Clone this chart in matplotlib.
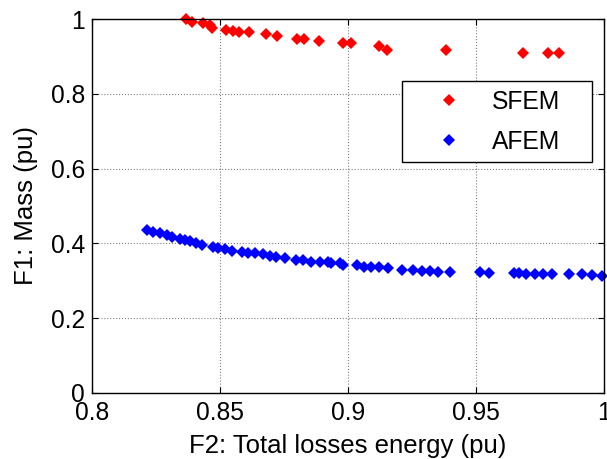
import matplotlib.pyplot as plt

# SFEM front (F2: losses, F1: mass)
sfem_losses = [0.8366, 0.8389, 0.8434, 0.8460, 0.8467, 0.8522, 0.8551, 0.8573,
               0.8612, 0.8681, 0.8722, 0.8802, 0.8828, 0.8886, 0.8980, 0.9013,
               0.9120, 0.9154, 0.9383, 0.9684, 0.9780, 0.9825]
sfem_mass = [1.000, 0.993, 0.988, 0.984, 0.977, 0.971, 0.968, 0.964,
             0.964, 0.960, 0.955, 0.946, 0.946, 0.942, 0.935, 0.935,
             0.928, 0.917, 0.917, 0.908, 0.908, 0.908]

# AFEM front
afem_losses = [0.8216, 0.8239, 0.8265, 0.8291, 0.8311, 0.8343, 0.8363, 0.8382,
               0.8408, 0.8428, 0.8473, 0.8492, 0.8519, 0.8545, 0.8584, 0.8609,
               0.8636, 0.8668, 0.8694, 0.8720, 0.8752, 0.8798, 0.8824, 0.8857,
               0.8889, 0.8921, 0.8935, 0.8967, 0.8982, 0.9034, 0.9064, 0.9090,
               0.9120, 0.9155, 0.9211, 0.9255, 0.9289, 0.9322, 0.9350, 0.9400,
               0.9517, 0.9552, 0.9649, 0.9669, 0.9695, 0.9731, 0.9762, 0.9796,
               0.9864, 0.9915, 0.9952, 0.9993]
afem_mass = [0.4358, 0.4297, 0.4270, 0.4225, 0.4179, 0.4118, 0.4091, 0.4064,
             0.4003, 0.3957, 0.3912, 0.3869, 0.3850, 0.3797, 0.3762, 0.3735,
             0.3735, 0.3709, 0.3671, 0.3644, 0.3618, 0.3556, 0.3556, 0.3511,
             0.3511, 0.3495, 0.3484, 0.3468, 0.3422, 0.3422, 0.3377, 0.3377,
             0.3377, 0.3334, 0.3289, 0.3289, 0.3270, 0.3270, 0.3243, 0.3243,
             0.3243, 0.3217, 0.3200, 0.3200, 0.3182, 0.3182, 0.3182, 0.3182,
             0.3182, 0.3182, 0.3155, 0.3136]

x_ticks = [0.8, 0.85, 0.9, 0.95, 1]
x_labels = ['0.8', '0.85', '0.9', '0.95', '1']
y_ticks = [0, 0.2, 0.4, 0.6, 0.8, 1]
y_labels = ['0', '0.2', '0.4', '0.6', '0.8', '1']

plt.rcParams['font.family'] = ['Liberation Sans', 'DejaVu Sans']

fig = plt.figure(figsize=(6.07, 4.59), dpi=100)
ax = fig.add_axes([0.1516, 0.1438, 0.8434, 0.8148])

ax.plot(sfem_losses, sfem_mass, 'D', color='#ff0000', markersize=6.5,
        markeredgewidth=0, label='SFEM', clip_on=False)
ax.plot(afem_losses, afem_mass, 'D', color='#0000ff', markersize=6.5,
        markeredgewidth=0, label='AFEM', clip_on=False)

ax.set_xlim(0.8, 1)
ax.set_ylim(0, 1)
ax.set_xticks(x_ticks)
ax.set_xticklabels(x_labels)
ax.set_yticks(y_ticks)
ax.set_yticklabels(y_labels)
ax.tick_params(direction='in', top=True, right=True, labelsize=17.7,
               length=4, width=0.8)
ax.tick_params(axis='x', pad=6)
ax.tick_params(axis='y', pad=5)
ax.grid(True, color='#808080', linestyle=':', linewidth=0.8)
for s in ax.spines.values():
    s.set_linewidth(1.0)

ax.set_xlabel('F2: Total losses energy (pu)', fontsize=18.5, labelpad=6.5)
ax.set_ylabel('F1: Mass (pu)', fontsize=18.5, labelpad=9.5)

leg = ax.legend(loc='upper left', bbox_to_anchor=(0.6055, 0.628, 0.371, 0.206),
                mode='expand', fontsize=17.7, fancybox=False, framealpha=1,
                edgecolor='black', handlelength=3.1, handletextpad=0.2,
                borderpad=0.35, labelspacing=0.65, borderaxespad=0)
leg.get_frame().set_linewidth(1.0)

fig.savefig('out.png', dpi=100)
